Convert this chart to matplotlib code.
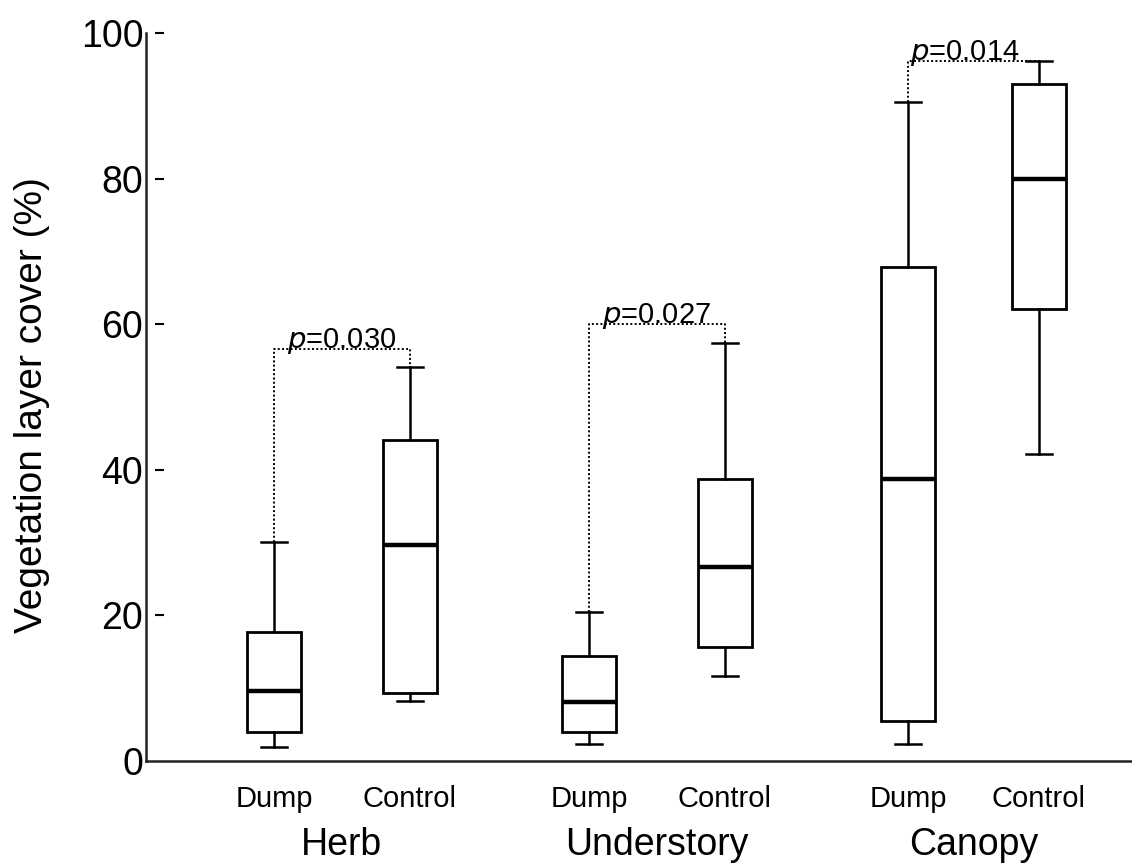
import matplotlib
matplotlib.use("Agg")
import matplotlib.pyplot as plt

plt.rcParams["font.family"] = ["Liberation Sans", "DejaVu Sans"]

# box statistics (vegetation cover, %)
treatments = ["Dump", "Control", "Dump", "Control", "Dump", "Control"]
layers = ["Herb", "Understory", "Canopy"]
whisker_low = [1.9, 8.2, 2.3, 11.7, 2.3, 42.2]
q1 = [4.0, 9.3, 4.0, 15.7, 5.5, 62.1]
median = [9.6, 29.7, 8.1, 26.6, 38.7, 79.9]
q3 = [17.7, 44.1, 14.4, 38.7, 67.9, 93.0]
whisker_high = [30.1, 54.1, 20.5, 57.4, 90.5, 96.2]

# significance brackets (one per layer)
bracket_y = [56.6, 60.0, 96.2]
p_labels = ["0.030", "0.027", "0.014"]

positions = [1.0, 2.0, 3.316, 4.316, 5.662, 6.625]

fig = plt.figure(figsize=(11.32, 8.68), dpi=100)
ax = fig.add_axes([0.129, 0.1233, 0.871, 0.8387])

stats = []
for i in range(len(treatments)):
    stats.append({
        "whislo": whisker_low[i], "q1": q1[i], "med": median[i],
        "q3": q3[i], "whishi": whisker_high[i], "fliers": [],
    })

ax.bxp(stats, positions=positions, widths=0.40, showfliers=False,
       patch_artist=True,
       boxprops=dict(facecolor="white", edgecolor="black", linewidth=2.0),
       medianprops=dict(color="black", linewidth=3.2),
       whiskerprops=dict(color="black", linewidth=1.8),
       capprops=dict(color="black", linewidth=1.8),
       capwidths=0.19)

# dotted brackets with p values
for k in range(3):
    xd, xc = positions[2 * k], positions[2 * k + 1]
    yd, yc = whisker_high[2 * k], whisker_high[2 * k + 1]
    yb = bracket_y[k]
    ax.plot([xd, xd, xc, xc], [yd, yb, yb, yc], color="black",
            linestyle=(0, (1, 1.2)), linewidth=1.4, zorder=1)
    xm = (xd + xc) / 2
    if k == 2:
        xm -= 0.06
    ax.text(xm, yb + 0.1, "$\\it{p}$=" + p_labels[k], ha="center",
            va="baseline", fontsize=21)

ax.set_xlim(0.059, 7.31)
ax.set_ylim(0, 100)

for side in ["top", "right"]:
    ax.spines[side].set_visible(False)
for side in ["left", "bottom"]:
    ax.spines[side].set_linewidth(1.8)
    ax.spines[side].set_color("#222222")

ax.set_yticks([0, 20, 40, 60, 80, 100])
ax.tick_params(axis="y", length=0, pad=2, labelsize=27)
# short detached tick dashes to the right of the spine
ax.hlines([20, 40, 60, 80, 100], 0.009, 0.018,
          transform=ax.get_yaxis_transform(), color="black", linewidth=1.5,
          clip_on=False)

ax.set_xticks(positions)
ax.set_xticklabels(treatments)
ax.tick_params(axis="x", length=0, pad=17, labelsize=21)

for k, name in enumerate(layers):
    xm = (positions[2 * k] + positions[2 * k + 1]) / 2
    ax.text(xm, -0.129, name, ha="center", va="baseline", fontsize=27,
            transform=ax.get_xaxis_transform())

ax.set_ylabel("Vegetation layer cover (%)", fontsize=28)
ax.yaxis.set_label_coords(-0.097, 0.489)

fig.savefig("out.png", dpi=100)
